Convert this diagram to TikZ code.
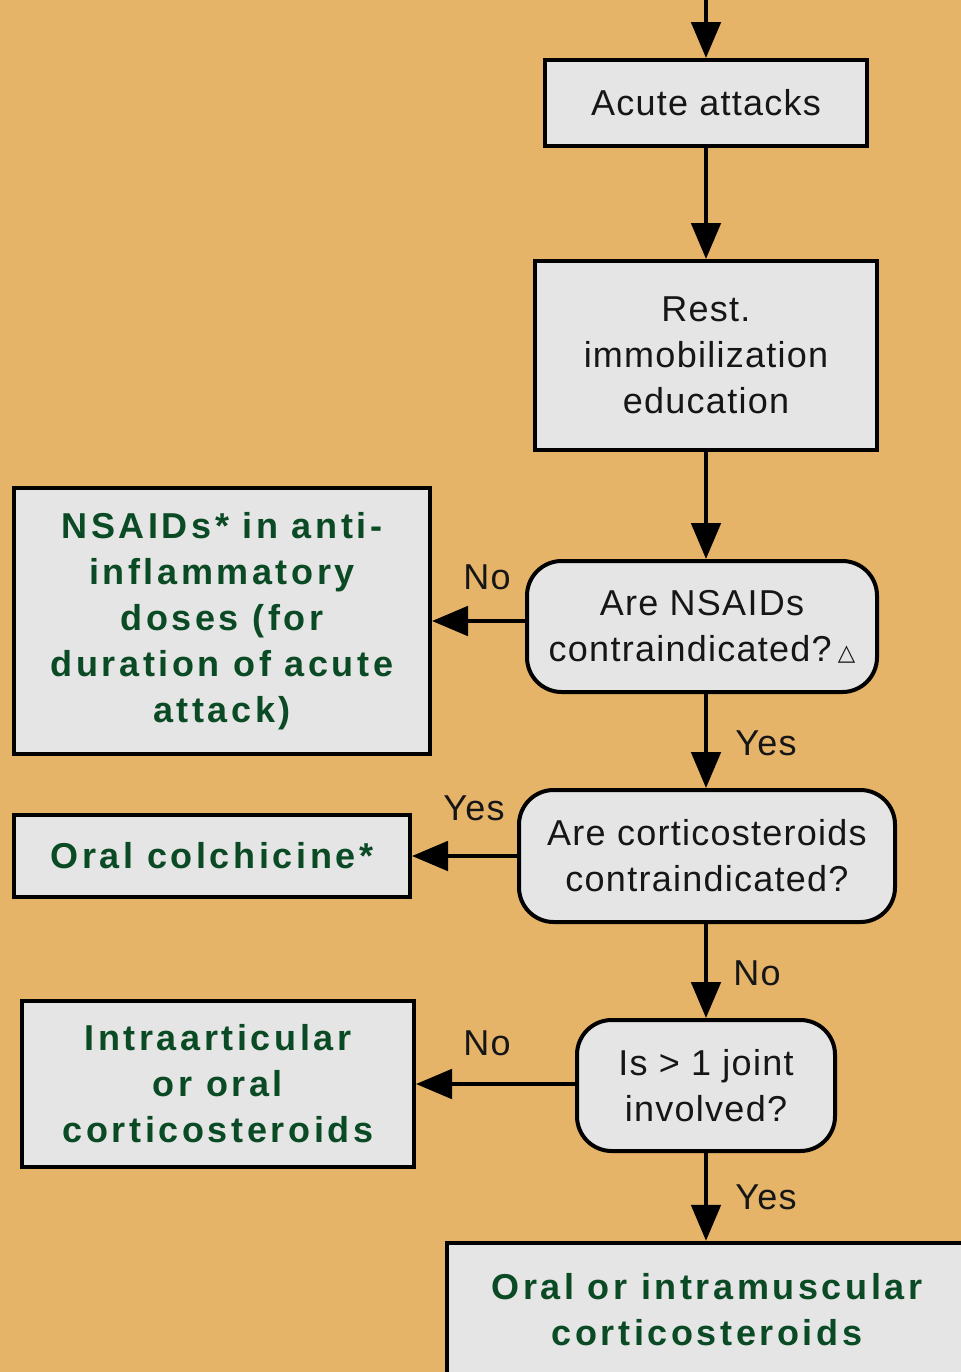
\documentclass[tikz,border=0pt]{standalone}
\usepackage{fontspec}
\setmainfont[LetterSpace=3.5]{Liberation Sans}
\newfontfamily\greenfont[LetterSpace=10]{Liberation Sans}
\newfontfamily\symfont{DejaVu Sans}
\usetikzlibrary{arrows.meta}
\definecolor{bgc}{RGB}{230,180,104}
\definecolor{boxc}{RGB}{229,229,229}
\definecolor{grn}{RGB}{10,74,36}
\definecolor{ink}{RGB}{22,22,22}
\tikzset{
  box/.style={draw=black, line width=3pt, fill=boxc, align=center, inner sep=0pt,
    font=\fontsize{27}{34.5}\selectfont, text=ink},
  gbox/.style={box, font=\greenfont\bfseries\fontsize{27}{34.5}\selectfont, text=grn},
  qbox/.style={box, rounded corners=26pt},
  arr/.style={line width=3pt, -{Triangle[length=27pt,width=22pt]}},
  lbl/.style={font=\fontsize{27}{30}\selectfont, text=ink, inner sep=0pt}
}
\begin{document}
\begin{tikzpicture}[x=0.75pt,y=-0.75pt]
\fill[bgc] (0,0) rectangle (961,1372);
\useasboundingbox (0,0) rectangle (961,1372);

\node[box, minimum width=242pt, minimum height=64.5pt] (acute) at (706,103) {Acute attacks};
\node[box, minimum width=256.5pt, minimum height=141.75pt] (rest) at (706,355.5) {Rest.\\immobilization\\education};
\node[qbox, minimum width=262.5pt, minimum height=98.25pt] (q1) at (702,626.5) {Are NSAIDs\\contraindicated?\,{\symfont\fontsize{17}{20}\selectfont\raisebox{1pt}{△}}};
\node[gbox, minimum width=312pt, minimum height=199.5pt] (nsaid) at (222,621) {NSAIDs* in anti-\\inflammatory\\doses (for\\duration of acute\\attack)};
\node[qbox, minimum width=282pt, minimum height=99pt] (q2) at (707,856) {Are corticosteroids\\contraindicated?};
\node[gbox, minimum width=297pt, minimum height=61.5pt] (colch) at (212,856) {Oral colchicine*};
\node[qbox, minimum width=193.5pt, minimum height=98.25pt] (q3) at (706,1085.5) {Is > 1 joint\\involved?};
\node[gbox, minimum width=294pt, minimum height=124.5pt] (intra) at (218,1084) {Intraarticular\\or oral\\corticosteroids};
\node[gbox, minimum width=390pt, minimum height=100pt] (final) at (707,1309.5) {Oral or intramuscular\\corticosteroids};

\coordinate (top) at (706,-5);
\draw[arr] (top) -- (acute.north);
\draw[arr] (acute.south) -- (rest.north);
\draw[arr] (rest.south) -- (rest.south |- q1.north);
\draw[arr] (rest.south |- q1.south) -- (rest.south |- q2.north);
\draw[arr] (rest.south |- q2.south) -- (rest.south |- q3.north);
\draw[arr] (q3.south) -- (q3.south |- final.north);

\draw[arr] (q1.west |- nsaid.east) -- (nsaid.east);
\draw[arr] (q2.west) -- (colch.east);
\draw[arr] (q3.west |- intra.east) -- (intra.east);

\node[lbl] (l1) at (487,577) {No};
\node[lbl] (l2) at (766,743) {Yes};
\node[lbl] (l3) at (474,808) {Yes};
\node[lbl] (l4) at (757,973) {No};
\node[lbl] (l5) at (487,1043) {No};
\node[lbl] (l6) at (766,1197) {Yes};
\end{tikzpicture}
\end{document}
